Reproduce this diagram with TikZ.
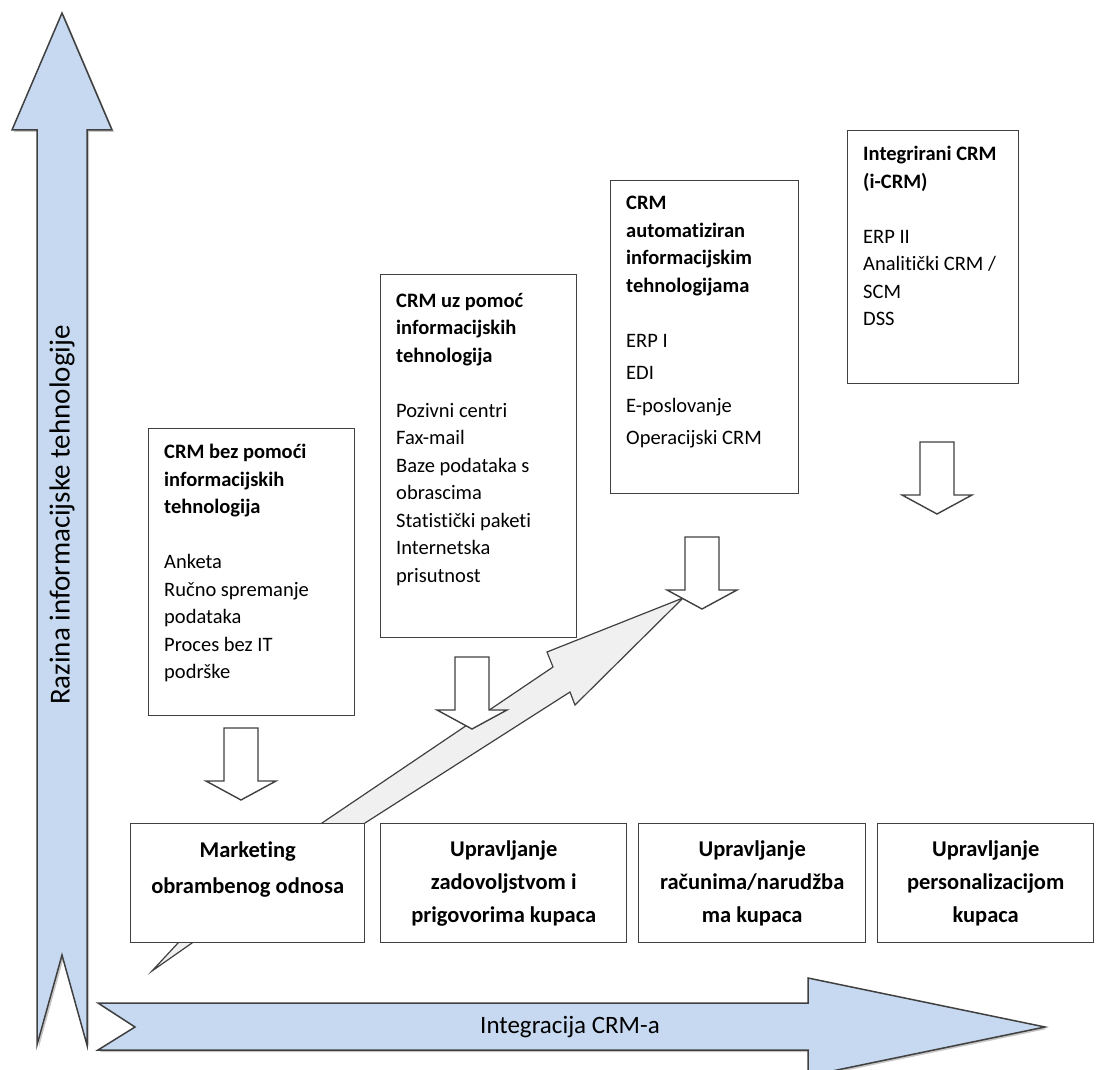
\documentclass[tikz,border=0pt]{standalone}
\usepackage{fontspec}
\setmainfont{Carlito}[Ligatures=NoCommon]
\usetikzlibrary{calc, positioning}
\usetikzlibrary{shadows}

\definecolor{axisblue}{HTML}{C6D9F1}
\definecolor{linegray}{HTML}{404040}
\definecolor{stepgray}{HTML}{F0F0F0}

\tikzset{
  infobox/.style={draw=linegray, line width=1.4pt, fill=white, anchor=north west, inner sep=0pt},
  infotext/.style={anchor=north west, align=left, inner sep=0pt, xshift=16pt, yshift=-16pt,
    font=\fontsize{20.5}{27.5}\selectfont},
  stagebox/.style={draw=linegray, line width=1.4pt, fill=white, anchor=north west,
    minimum height=119, align=center, inner sep=0pt, font=\bfseries\fontsize{22.5}{33}\selectfont},
  axisarrow/.style={draw=linegray, line width=1.5pt, fill=axisblue,
    drop shadow={opacity=0.45, shadow xshift=2pt, shadow yshift=-2pt}},
  pics/blockdown/.style={code={
    \draw[draw=linegray, line width=1.4pt, fill=white]
      (-17,0) -- (17,0) -- (17,53) -- (35,53) -- (0,72) -- (-35,53) -- (-17,53) -- cycle;}},
}

\begin{document}
\begin{tikzpicture}[x=1pt,y=-1pt]
\useasboundingbox (0,0) rectangle (1096,1070);

% axes
\draw[axisarrow] (62,13) -- (112,130) -- (87,130) -- (87,1045) -- (62,955)
    -- (37,1045) -- (37,130) -- (12,130) -- cycle;
\draw[axisarrow] (98,1003) -- (808,1003) -- (808,978) -- (1045,1027) -- (808,1076)
    -- (808,1050) -- (98,1050) -- (135,1027) -- cycle;
\node[rotate=90, font=\fontsize{29}{34}\selectfont] (ylab) at (62,515)
    {Razina informacijske tehnologije};
\node[font=\fontsize{25}{30}\selectfont] (xlab) at (570,1027) {Integracija CRM-a};

% rising arrow behind the first stage
\draw[draw=linegray, line width=1.2pt, fill=stepgray] (152,971) -- (178,943) -- (322,823)
    -- (553,667) -- (547,652) -- (683,598) -- (575,705) -- (570,692) -- (365,823)
    -- (192,943) -- cycle;

% stages
\node[stagebox, minimum width=234] (mkt) at (130,823) {\rule{0pt}{28pt}Marketing\\[3pt]obrambenog odnosa\\\strut};
\node[stagebox, minimum width=246] (zad) at (380,823) {Upravljanje\\zadovoljstvom i\\prigovorima kupaca};
\node[stagebox, minimum width=227] (rac) at (638,823) {Upravljanje\\računima/narudžba\\ma kupaca};
\node[stagebox, minimum width=216] (per) at (877,823) {Upravljanje\\personalizacijom\\kupaca};

% levels of IT support
\node[infobox, minimum width=206, minimum height=287,
    label={[infotext]north west:{\textbf{CRM bez pomoći}\\\textbf{informacijskih}\\\textbf{tehnologija}\\[27.5pt]
      Anketa\\Ručno spremanje\\podataka\\Proces bez IT\\podrške}}] (itnone) at (148,428) {};
\node[infobox, minimum width=196, minimum height=363,
    label={[infotext, yshift=-3pt]north west:{\textbf{CRM uz pomoć}\\\textbf{informacijskih}\\\textbf{tehnologija}\\[27.5pt]
      Pozivni centri\\Fax-mail\\Baze podataka s\\obrascima\\Statistički paketi\\Internetska\\prisutnost}}] (itaid) at (380,274) {};
\node[infobox, minimum width=188, minimum height=313,
    label={[infotext]north west:{\textbf{CRM}\\\textbf{automatiziran}\\\textbf{informacijskim}\\\textbf{tehnologijama}\\[27.5pt]
      ERP I\\[5pt]EDI\\[5pt]E-poslovanje\\[5pt]Operacijski CRM}}] (itauto) at (610,180) {};
\node[infobox, minimum width=171, minimum height=253,
    label={[infotext]north west:{\textbf{Integrirani CRM}\\\textbf{(i-CRM)}\\[27.5pt]
      ERP II\\Analitički CRM /\\SCM\\DSS}}] (itint) at (847,130) {};

\pic at (241,728) {blockdown};
\pic at (472,657) {blockdown};
\pic at (702,537) {blockdown};
\pic at (937,442) {blockdown};
\end{tikzpicture}
\end{document}
